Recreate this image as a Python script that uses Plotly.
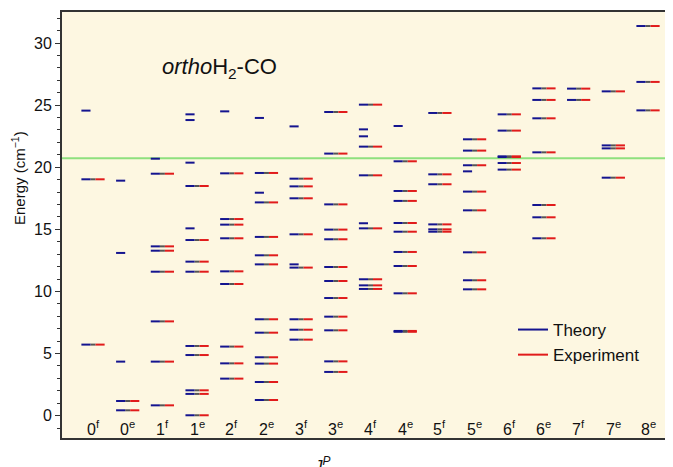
import plotly.graph_objects as go

# ---- data ----
columns = ["0<sup>f</sup>", "0<sup>e</sup>", "1<sup>f</sup>", "1<sup>e</sup>", "2<sup>f</sup>", "2<sup>e</sup>",
           "3<sup>f</sup>", "3<sup>e</sup>", "4<sup>f</sup>", "4<sup>e</sup>", "5<sup>f</sup>", "5<sup>e</sup>",
           "6<sup>f</sup>", "6<sup>e</sup>", "7<sup>f</sup>", "7<sup>e</sup>", "8<sup>e</sup>"]

theory = [
    [5.72, 19.03, 24.56],
    [0.43, 1.18, 4.35, 13.10, 18.92],
    [0.83, 4.35, 7.59, 11.59, 13.28, 13.63, 19.48, 20.69],
    [0.03, 1.75, 2.04, 4.88, 5.61, 11.59, 12.40, 14.14, 15.08, 18.49, 20.37, 23.80, 24.26],
    [2.98, 4.21, 5.56, 10.60, 11.62, 14.28, 15.38, 15.83, 19.51, 24.50],
    [1.26, 2.71, 4.19, 4.70, 6.68, 7.76, 12.18, 12.91, 14.39, 17.17, 17.95, 19.54, 23.97],
    [6.12, 6.92, 7.76, 11.92, 12.18, 14.60, 17.50, 18.46, 19.08, 23.29],
    [3.52, 4.37, 6.87, 7.97, 9.47, 10.84, 11.97, 14.20, 14.98, 17.01, 21.10, 24.45],
    [10.20, 10.49, 10.98, 15.08, 15.49, 19.35, 21.66, 22.49, 23.05, 25.04],
    [6.75, 6.82, 9.85, 12.05, 13.18, 14.81, 15.51, 17.29, 18.09, 20.48, 23.32],
    [14.81, 15.00, 15.40, 18.63, 19.43, 24.37],
    [10.17, 10.90, 13.15, 16.53, 18.04, 19.67, 20.16, 21.34, 22.25],
    [19.81, 20.34, 20.82, 20.88, 22.95, 24.26],
    [14.28, 15.97, 16.96, 21.20, 23.94, 25.42, 26.35],
    [25.42, 26.33],
    [19.16, 21.52, 21.76, 26.11],
    [24.58, 26.87, 31.37],
]

experiment = [
    [5.72, 19.03, None],
    [0.43, 1.18, None, None, None],
    [0.83, 4.35, 7.59, 11.59, 13.28, 13.63, 19.48, None],
    [0.03, 1.75, 2.04, 4.88, 5.61, 11.59, 12.40, 14.14, None, 18.49, None, None, None],
    [2.98, 4.21, 5.56, 10.60, 11.62, 14.28, 15.38, 15.83, 19.51, None],
    [1.26, 2.71, 4.19, 4.70, 6.68, 7.76, 12.18, 12.91, 14.39, 17.17, None, 19.54, None],
    [6.12, 6.92, 7.76, 11.92, None, 14.60, 17.50, 18.46, 19.08, None],
    [3.52, 4.37, 6.87, 7.97, 9.47, 10.84, 11.97, 14.20, 14.98, 17.01, 21.10, 24.45],
    [10.20, 10.49, 10.98, 15.08, None, 19.35, 21.66, None, None, 25.04],
    [6.75, 6.82, 9.85, 12.05, 13.18, 14.81, 15.51, 17.29, 18.09, 20.48, None],
    [14.81, 15.00, 15.40, 18.63, 19.43, 24.37],
    [10.17, 10.90, 13.15, 16.53, 18.04, None, 20.16, 21.34, 22.25],
    [19.81, 20.34, 20.82, 20.88, 22.95, 24.26],
    [14.28, 15.97, 16.96, 21.20, 23.94, 25.42, 26.35],
    [25.42, 26.33],
    [19.16, 21.52, 21.76, 26.11],
    [24.58, 26.87, 31.37],
]

threshold = 20.72

# ---- styles ----
BLUE = "#14148f"
RED = "#e11b1b"
CONN = "#555555"
GREEN = "#8ee07e"
BG = "#fdf7e1"
FONT = "Liberation Sans, Arial, sans-serif"
W_OUT, W_IN = 0.335, 0.072

# page offset (browser body margin) and plot geometry in figure pixels
OFF = 8
L, T, PW, PH = 54, 4, 611, 426
FIG_W, FIG_H = 665, 459


def px_x(px):
    return (px - OFF - L) / PW


def px_y(py):
    return 1 - (py - OFF - T) / PH


tx, ty, ex, ey, cx, cy = [], [], [], [], [], []
for i, (tl, el) in enumerate(zip(theory, experiment)):
    for t, e in zip(tl, el):
        tx += [i - W_OUT, i - W_IN, None]
        ty += [t, t, None]
        if e is not None:
            ex += [i + W_IN, i + W_OUT, None]
            ey += [e, e, None]
            cx += [i - W_IN, i + W_IN, None]
            cy += [t, e, None]

fig = go.Figure()
fig.add_hline(y=threshold, line=dict(color=GREEN, width=2), layer="below")
fig.add_trace(go.Scatter(x=cx, y=cy, mode="lines", line=dict(color=CONN, width=2),
                         showlegend=False, hoverinfo="skip"))
fig.add_trace(go.Scatter(x=tx, y=ty, mode="lines", line=dict(color=BLUE, width=2),
                         name="Theory"))
fig.add_trace(go.Scatter(x=ex, y=ey, mode="lines", line=dict(color=RED, width=2),
                         name="Experiment"))
fig.add_trace(go.Scatter(x=[0], y=[0], yaxis="y2", mode="markers", marker=dict(opacity=0),
                         showlegend=False, hoverinfo="skip"))

x_range = [-0.894, 16.72]
y_range = [-1.8, 32.5]

annotations = []
for i, lab in enumerate(columns):
    annotations.append(dict(x=i, y=0, xref="x", yref="paper", text=lab, showarrow=False,
                            xanchor="center", yanchor="bottom", yshift=-2,
                            font=dict(size=16, color="#111", family=FONT)))
annotations.append(dict(x=px_x(160), y=px_y(68), xref="paper", yref="paper",
                        text="<i>ortho</i>H<sub>2</sub>-CO", showarrow=False,
                        xanchor="left", yanchor="middle", font=dict(size=22, color="#111", family=FONT)))
annotations.append(dict(x=px_x(18), y=px_y(178), xref="paper", yref="paper",
                        text="Energy (cm<sup>−1</sup>)", textangle=-90, showarrow=False,
                        xanchor="center", yanchor="middle", font=dict(size=15, color="#111", family=FONT)))
annotations.append(dict(x=px_x(322), y=0, xref="paper", yref="paper",
                        text="<i>J</i><sup><i>P</i></sup>", showarrow=False,
                        xanchor="center", yanchor="top", yshift=-14,
                        font=dict(size=17, color="#111", family=FONT)))

fig.update_layout(
    width=FIG_W, height=FIG_H,
    margin=dict(l=L, r=FIG_W - L - PW, t=T, b=FIG_H - T - PH),
    paper_bgcolor="white", plot_bgcolor=BG,
    font=dict(family=FONT, size=16, color="#111"),
    showlegend=True,
    legend=dict(x=px_x(513), y=px_y(312), xanchor="left", yanchor="top",
                bgcolor="rgba(0,0,0,0)", font=dict(size=17, family=FONT, color="#111"),
                itemwidth=30, tracegroupgap=0),
    xaxis=dict(range=x_range, showticklabels=False, ticks="", showgrid=False, zeroline=False,
               showline=True, linecolor="#333", linewidth=2, mirror=True, fixedrange=True),
    yaxis=dict(range=y_range, showgrid=False, zeroline=False, showline=True, linecolor="#333",
               linewidth=2, ticks="outside", ticklen=5, tickwidth=1, tickcolor="#333",
               tickvals=[0, 5, 10, 15, 20, 25, 30], tickfont=dict(size=16, family=FONT),
               minor=dict(dtick=1, tick0=0, ticks="outside", ticklen=3, tickcolor="#333", showgrid=False)),
    yaxis2=dict(range=y_range, overlaying="y", side="right", showgrid=False, zeroline=False,
                showticklabels=False, showline=False, ticks="inside", ticklen=5, tickwidth=1,
                tickcolor="#333", tickvals=[0, 5, 10, 15, 20, 25, 30],
                minor=dict(dtick=1, tick0=0, ticks="inside", ticklen=3, tickcolor="#333", showgrid=False)),
    annotations=annotations,
)

fig.write_html("out.html")
